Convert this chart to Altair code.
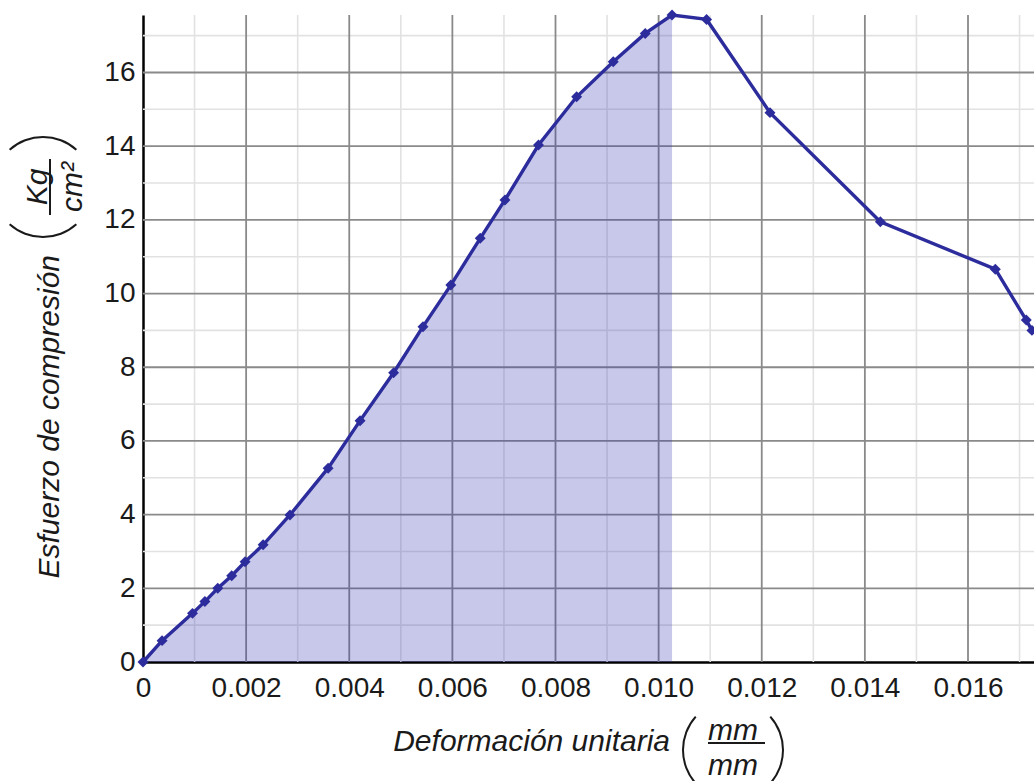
import math
import altair as alt
import pandas as pd

# Stress-strain readings of the concrete cylinder test
strain = [0, 0.00037, 0.00096, 0.0012, 0.00145, 0.00172, 0.00198, 0.00233,
          0.00285, 0.00359, 0.00421, 0.00486, 0.00543, 0.00597, 0.00654,
          0.00702, 0.00767, 0.00841, 0.00912, 0.00974, 0.01026, 0.01093,
          0.01216, 0.0143, 0.01653, 0.01713, 0.01724]
stress = [0, 0.58, 1.32, 1.64, 2.0, 2.34, 2.72, 3.18, 3.99, 5.26, 6.55, 7.85,
          9.1, 10.23, 11.5, 12.54, 14.03, 15.34, 16.29, 17.06, 17.56, 17.44,
          14.91, 11.95, 10.66, 9.28, 9.0]

x_ticks = [0, 0.002, 0.004, 0.006, 0.008, 0.010, 0.012, 0.014, 0.016]
y_ticks = [0, 2, 4, 6, 8, 10, 12, 14, 16]
x_minor = [0.001, 0.003, 0.005, 0.007, 0.009, 0.011, 0.013, 0.015, 0.017]
y_minor = [1, 3, 5, 7, 9, 11, 13, 15, 17]

X_MAX = 0.01728
Y_MAX = 17.56
W, H = 891, 647
FONT = "Liberation Sans"
LINE_COLOR = "#2c2c9c"

df = pd.DataFrame({"strain": strain, "stress": stress})
peak_strain = df.loc[df["stress"].idxmax(), "strain"]
df_fill = df[df["strain"] <= peak_strain]

xs = alt.Scale(domain=[0, X_MAX], nice=False, zero=False)
ys = alt.Scale(domain=[0, Y_MAX], nice=False, zero=False)

x_axis = alt.Axis(values=x_ticks, grid=False, ticks=False, title=None,
                  labelExpr="datum.value == 0 ? '0' : format(datum.value, '.3f')",
                  labelFont=FONT, labelFontSize=28, labelColor="#1a1a1a",
                  labelPadding=12, domainColor="black", domainWidth=2.5,
                  labelFlush=False, labelOverlap=False)
y_axis = alt.Axis(values=y_ticks, grid=False, ticks=False, title=None,
                  labelFont=FONT, labelFontSize=28, labelColor="#1a1a1a",
                  labelPadding=8, domainColor="black", domainWidth=2.5,
                  labelFlush=False, labelOverlap=False)


def X(field):
    return alt.X(field, scale=xs, axis=x_axis)


def Y(field):
    return alt.Y(field, scale=ys, axis=y_axis)


# grid: light minor lines, darker major lines
minor_v = alt.Chart(pd.DataFrame({"v": x_minor})).mark_rule(
    color="#e2e2e2", strokeWidth=1.6).encode(x=X("v:Q"))
minor_h = alt.Chart(pd.DataFrame({"v": y_minor})).mark_rule(
    color="#e2e2e2", strokeWidth=1.6).encode(y=Y("v:Q"))
major_v = alt.Chart(pd.DataFrame({"v": x_ticks[1:]})).mark_rule(
    color="#8a8a8a", strokeWidth=1.8).encode(x=X("v:Q"))
major_h = alt.Chart(pd.DataFrame({"v": y_ticks[1:]})).mark_rule(
    color="#8a8a8a", strokeWidth=1.8).encode(y=Y("v:Q"))

# area under the curve up to the peak stress
area = alt.Chart(df_fill).mark_area(color="#3434b4", opacity=0.27).encode(
    x=X("strain:Q"), y=Y("stress:Q"))
curve = alt.Chart(df).mark_line(color=LINE_COLOR, strokeWidth=3.4).encode(
    x=X("strain:Q"), y=Y("stress:Q"))
dots = alt.Chart(df).mark_point(shape="diamond", filled=True, size=120,
                                color=LINE_COLOR, opacity=1).encode(
    x=X("strain:Q"), y=Y("stress:Q"))

one = pd.DataFrame({"k": [0]})


def label(text, x, y, size=30, angle=0, align="center"):
    return alt.Chart(one).mark_text(
        text=text, font=FONT, fontSize=size, fontStyle="italic",
        color="#1a1a1a", align=align, baseline="middle", angle=angle,
    ).encode(x=alt.value(x), y=alt.value(y))


def bar(x, y, x2=None, y2=None):
    enc = {"x": alt.value(x), "y": alt.value(y)}
    if x2 is not None:
        enc["x2"] = alt.value(x2)
    if y2 is not None:
        enc["y2"] = alt.value(y2)
    return alt.Chart(one).mark_rule(color="#1a1a1a", strokeWidth=2).encode(**enc)


def paren(cx, cy, mid_angle, half=0.73, r=51):
    return alt.Chart(one).mark_arc(
        theta=mid_angle - half, theta2=mid_angle + half,
        radius=r, radius2=r - 2, color="#1a1a1a",
    ).encode(x=alt.value(cx), y=alt.value(cy))


# x-axis title: Deformación unitaria (mm/mm)
fx, fy = 590, 728
x_title = [
    label("Deformación unitaria", 527, 727, align="right"),
    label("mm", fx, fy - 12),
    bar(fx - 25, fy, x2=fx + 32),
    label("mm", fx, fy + 23),
    paren(fx, fy + 7, 3 * math.pi / 2),
    paren(fx, fy + 7, math.pi / 2),
]

# y-axis title: Esfuerzo de compresión (Kg/cm²)
gx, gy = -93, 172
y_title = [
    label("Esfuerzo de compresión", gx, 240, angle=270, align="right"),
    label("Kg", gx - 12, gy, angle=270),
    bar(gx, gy - 28, y2=gy + 28),
    label("cm²", gx + 23, gy, angle=270),
    paren(gx - 7, gy, 2 * math.pi),
    paren(gx - 7, gy, math.pi),
]

chart = alt.layer(
    minor_v, minor_h, major_v, major_h, area, curve, dots, *x_title, *y_title
).properties(
    width=W, height=H,
    autosize=alt.AutoSizeParams(type="none"),
    padding={"left": 143, "top": 15, "right": 0, "bottom": 119},
    background="white",
).configure_view(stroke=None)

chart.save("out.html", embed_options={"renderer": "svg", "actions": False})
